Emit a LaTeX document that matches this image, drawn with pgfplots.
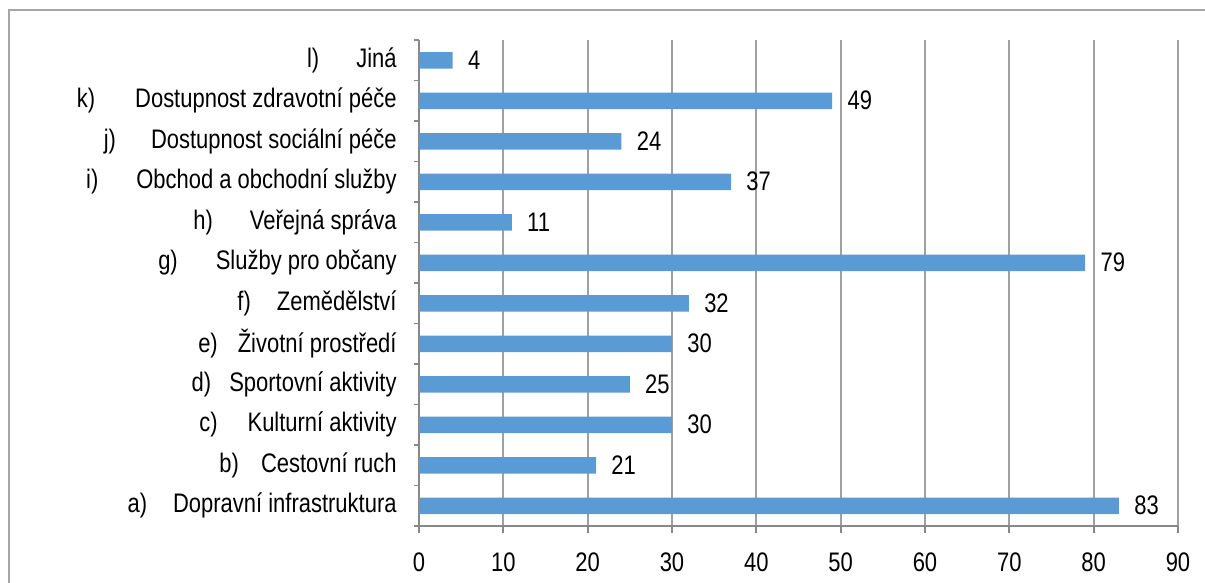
\documentclass[border=0pt]{standalone}
\usepackage{fontspec}
\setmainfont{Liberation Sans}[FakeStretch=0.82]
\usepackage{pgfplots}
\pgfplotsset{compat=1.18}
\definecolor{barblue}{HTML}{5B9BD5}
\definecolor{gridgray}{HTML}{A0A0A0}
\definecolor{axgray}{HTML}{888888}
\definecolor{framegray}{HTML}{A6A6A6}
\newcommand\fsz{\fontsize{13.4bp}{16bp}\selectfont}
\begin{document}
\begin{tikzpicture}
\useasboundingbox (0,0) rectangle (602.5bp,-291.5bp);
\draw[framegray, line width=1bp] (4.5bp,-300bp) -- (4.5bp,-5bp) -- (610bp,-5bp);
\begin{axis}[
  at={(209.5bp,-263bp)}, anchor=south west,
  scale only axis,
  width=379.5bp, height=243bp,
  xbar, bar width=8.25bp,
  xmin=0, xmax=90,
  ymin=-0.5, ymax=11.5,
  xtick={0,10,...,90},
  ytick={0,...,11},
  minor ytick={-0.5,0.5,...,11.5},
  yticklabels={
    a)\hspace{13bp}Dopravní infrastruktura,
    b)\hspace{11bp}Cestovní ruch,
    c)\hspace{15bp}Kulturní aktivity,
    d)\hspace{9bp}Sportovní aktivity,
    e)\hspace{10bp}Životní prostředí,
    f)\hspace{13bp}Zemědělství,
    g)\hspace{19bp}Služby pro občany,
    h)\hspace{18.5bp}Veřejná správa,
    i)\hspace{19bp}Obchod a obchodní služby,
    j)\hspace{17.5bp}Dostupnost sociální péče,
    k)\hspace{20bp}Dostupnost zdravotní péče,
    l)\hspace{18.5bp}Jiná},
  axis x line*=bottom, axis y line*=left,
  axis line style={axgray, line width=0.9bp},
  tick align=outside,
  major tick length=3.5bp,
  minor tick length=2.5bp,
  ytick style={draw=none},
  minor y tick style={axgray, line width=0.9bp, draw=axgray},
  xtick style={axgray, line width=0.9bp},
  xmajorgrids, major grid style={gridgray, line width=0.9bp},
  /pgf/number format/assume math mode=true,
  every tick label/.append style={font=\fsz, text=black},
  yticklabel style={anchor=east, inner sep=0pt, xshift=-7.5bp},
  xticklabel style={anchor=north, inner sep=0pt, yshift=-9.5bp},
  nodes near coords,
  every node near coord/.append style={font=\fsz, text=black, anchor=west, inner sep=0pt, xshift=7.5bp},
]
\addplot[fill=barblue, draw=none] coordinates {
(83,0) (21,1) (30,2) (25,3) (30,4) (32,5) (79,6) (11,7) (37,8) (24,9) (49,10) (4,11)
};
\end{axis}
\end{tikzpicture}
\end{document}
